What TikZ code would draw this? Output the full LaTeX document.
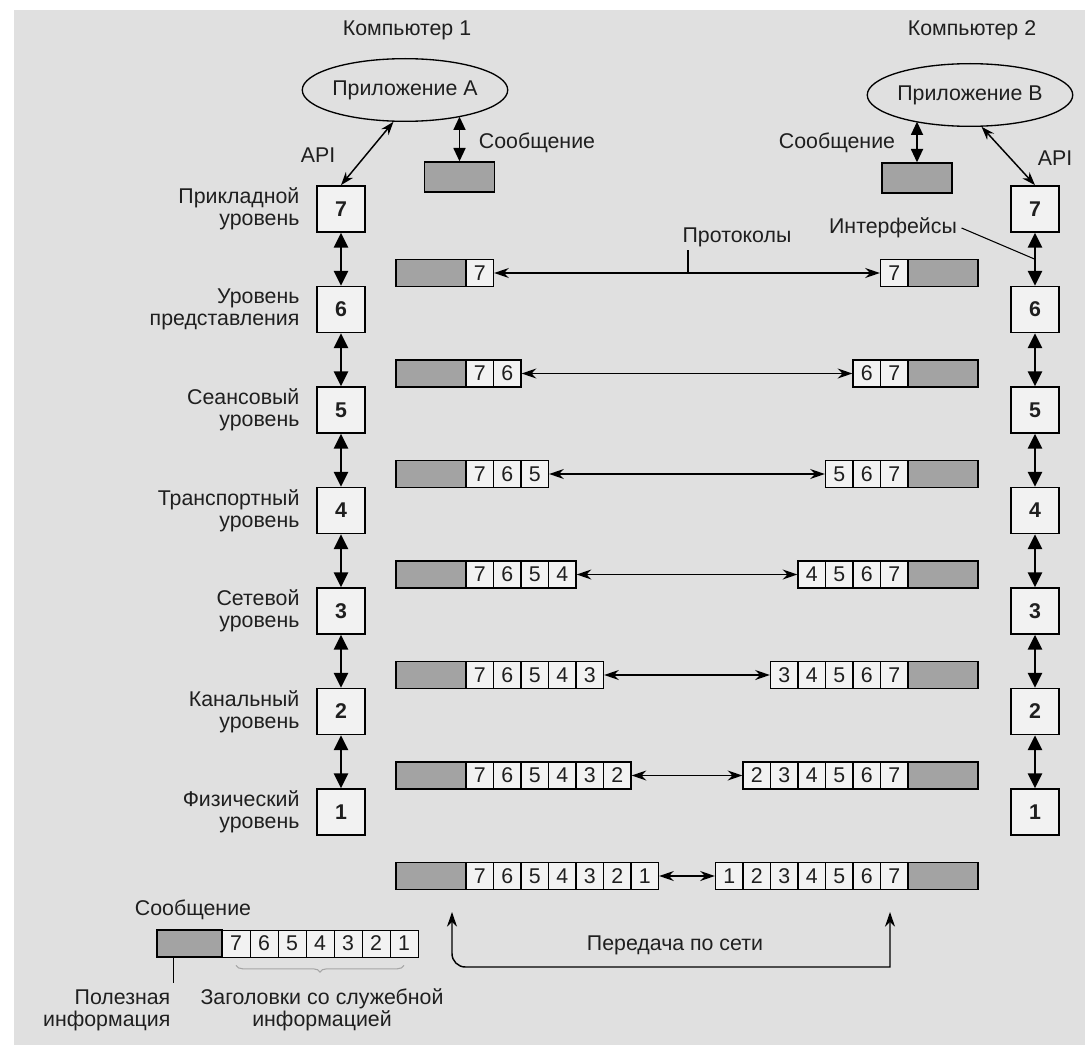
\documentclass[tikz,border=0pt]{standalone}
\usepackage{fontspec}
\setmainfont{Liberation Sans}
\usetikzlibrary{positioning,arrows.meta,calc,shapes.geometric,decorations.pathreplacing}

\begin{document}
\begin{tikzpicture}[x=0.75pt,y=-0.75pt,
    font=\fontsize{16}{16.5}\selectfont,
    every node/.style={text=black!88},
    layerbox/.style={draw,line width=1.3pt,fill=black!5,minimum width=36pt,minimum height=34.5pt,inner sep=0pt,font=\fontsize{16}{16.5}\selectfont\bfseries},
    cell/.style={draw,line width=1pt,fill=black!5,minimum width=20.6pt,minimum height=20.25pt,inner sep=0pt},
    payload/.style={draw,line width=1pt,fill=black!36,minimum width=52.5pt,minimum height=20.25pt,inner sep=0pt},
    app/.style={ellipse,draw,line width=1pt,minimum width=132pt,minimum height=47pt,inner sep=0pt},
    lvlname/.style={align=right},
    stackarrow/.style={{Triangle[length=11pt,width=10.5pt]}-{Triangle[length=11pt,width=10.5pt]},line width=1.7pt},
    msgarrow/.style={{Triangle[length=10pt,width=9pt]}-{Triangle[length=10pt,width=9pt]},line width=1.3pt},
    rowarrow/.style={{Stealth[length=11pt,width=7.5pt]}-{Stealth[length=11pt,width=7.5pt]},line width=1.1pt},
    apiarrow/.style={{Stealth[length=10pt,width=7pt]}-{Stealth[length=10pt,width=7pt]},line width=1.1pt}
  ]
  % page
  \fill[white] (0,0) rectangle (1085,1045);
  \fill[black!12] (14,10) rectangle (1085,1045);

  % computers and applications
  \node (comp1) at (407,30) {Компьютер 1};
  \node (comp2) at (972,30) {Компьютер 2};
  \node[app] (appA) at (405,90) {Приложение A};
  \node[app] (appB) at (970,95) {Приложение B};
  \node[payload,minimum height=22.5pt] (msgA) at (459.5,177) {};
  \node[payload,minimum height=22.5pt] (msgB) at (917,178) {};
  \node (msgtxtA) at (537,143) {Сообщение};
  \node (msgtxtB) at (837,143) {Сообщение};
  \node (apiA) at (318,155) {API};
  \node (apiB) at (1055,158) {API};

  % layer stacks
  \foreach \n in {7,...,1} {
    \node[layerbox] (L\n) at (341,{209+100.5*(7-\n)}) {\n};
    \node[layerbox] (R\n) at (1035,{209+100.5*(7-\n)}) {\n};
  }
  \foreach \n [evaluate=\n as \m using int(\n-1)] in {7,...,2} {
    \draw[stackarrow] (L\n.south) -- (L\m.north);
    \draw[stackarrow] (R\n.south) -- (R\m.north);
  }
  \node[lvlname,left=9pt of L7] {Прикладной\\уровень};
  \node[lvlname,left=9pt of L6] {Уровень\\представления};
  \node[lvlname,left=9pt of L5] {Сеансовый\\уровень};
  \node[lvlname,left=9pt of L4] {Транспортный\\уровень};
  \node[lvlname,left=9pt of L3] {Сетевой\\уровень};
  \node[lvlname,left=9pt of L2] {Канальный\\уровень};
  \node[lvlname,left=9pt of L1] {Физический\\уровень};

  \draw[apiarrow] (appA.250) -- (L7.north);
  \draw[apiarrow] (appB.290) -- (R7.north);
  \draw[msgarrow] (msgA.north) -- (msgA.north |- appA.-25);
  \draw[msgarrow] (msgB.north) -- (msgB.north |- appB.205);

  % packets on each layer
  \foreach \k in {7,...,1} {
    \pgfmathsetmacro\y{273+100.5*(7-\k)}
    \node[payload] (PL\k) at (431,\y) {};
    \foreach \j in {7,...,\k}
      \node[cell] (CL\k-\j) at ({466+27.5*(7-\j+0.5)},\y) {\j};
    \node[payload] (PR\k) at (943,\y) {};
    \foreach \j in {\k,...,7}
      \node[cell] (CR\k-\j) at ({908-27.5*(7-\j+0.5)},\y) {\j};
    \draw[rowarrow] (CL\k-\k.east) -- (CR\k-\k.west);
  }

  \node (proto) at (737,237) {Протоколы};
  \coordinate (protoTick) at (688,250);
  \draw[line width=0.8pt] (protoTick) -- (protoTick |- CL7-7.east);
  \node (iface) at (893,228) {Интерфейсы};
  \draw[line width=0.8pt] (iface.east) -- ($(R7.south)!0.5!(R6.north)$);

  % transfer over the network
  \coordinate (netL) at (452,912);
  \coordinate (netR) at (890,912);
  \draw[rowarrow] (netL) [rounded corners=10pt]-- (452,967) [sharp corners]-- (890,967) -- (netR);
  \node (net) at (675,945) {Передача по сети};

  % legend
  \node (legMsg) at (193,910) {Сообщение};
  \node[payload,minimum width=48.75pt] (legPay) at (189.5,943.5) {};
  \foreach \j [count=\i] in {7,...,1}
    \node[cell,line width=0.7pt,minimum width=21pt] (leg\j) at ({222+28*(\i-0.5)},943.5) {\j};
  \draw[black!35,line width=0.8pt,decorate,decoration={brace,mirror,amplitude=5pt}]
    ([yshift=-6pt]leg7.south) -- ([yshift=-6pt]leg1.south);
  \draw[line width=0.8pt] ([xshift=-12pt]legPay.south) -- ++(0,25);
  \node[align=right,anchor=east] (payTxt) at (175,1010) {Полезная\\информация};
  \node[align=center] (hdrTxt) at (322,1010) {Заголовки со служебной\\информацией};
\end{tikzpicture}
\end{document}
